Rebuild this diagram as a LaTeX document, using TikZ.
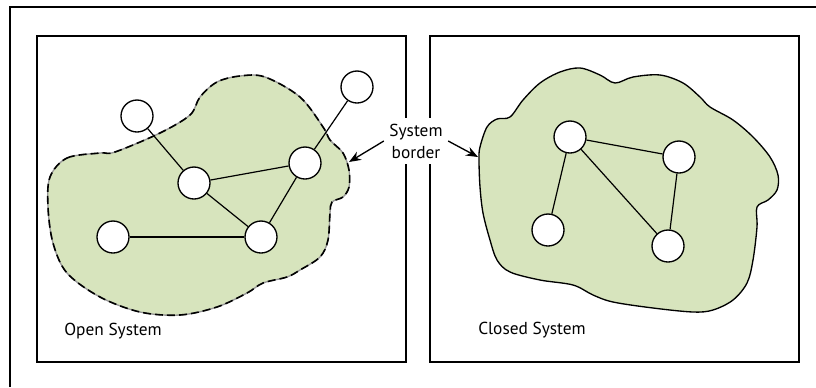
\documentclass[tikz,border=0pt]{standalone}
\usepackage{fontspec}
\setmainfont{PT Sans}
\usepackage{xcolor}
\usetikzlibrary{positioning,shapes,arrows.meta}
\definecolor{blobgreen}{RGB}{215,228,189}
\definecolor{bordergrey}{RGB}{150,150,150}

\tikzset{
  unit/.style={draw, circle, fill=white, line width=1pt, minimum size=24pt, inner sep=0pt},
  link/.style={line width=0.9pt},
  box/.style={draw, line width=1pt}
}

\begin{document}
\begin{tikzpicture}[x=0.75pt, y=-0.75pt, font=\fontsize{13}{16.5}\selectfont]
\useasboundingbox (0,0) rectangle (816,387);
\draw[box] (10,387) -- (10,7) -- (816,7);

\draw[box] (37,36) rectangle (406,362);
\draw[box] (430,36) rectangle (799,362);

\fill[blobgreen] plot[smooth cycle, tension=0.55] coordinates {(50,177) (67,158) (100,153) (115,152) (160,133) (190,115) (200,97) (217,82) (240,76) (265,77) (300,97) (323,127) (330,140) (343,153) (349,170) (349,187) (343,197) (332,202) (330,213) (328,240) (320,257) (300,270) (287,277) (263,283) (247,293) (217,307) (180,315) (140,312) (100,297) (67,273) (53,243) (48,207)};
\draw[bordergrey, line width=1pt] plot[smooth cycle, tension=0.55] coordinates {(50,177) (67,158) (100,153) (115,152) (160,133) (190,115) (200,97) (217,82) (240,76) (265,77) (300,97) (323,127) (330,140) (343,153) (349,170) (349,187) (343,197) (332,202) (330,213) (328,240) (320,257) (300,270) (287,277) (263,283) (247,293) (217,307) (180,315) (140,312) (100,297) (67,273) (53,243) (48,207)};
\draw[black, line width=1.2pt, dash pattern=on 6pt off 3pt] plot[smooth cycle, tension=0.55] coordinates {(50,177) (67,158) (100,153) (115,152) (160,133) (190,115) (200,97) (217,82) (240,76) (265,77) (300,97) (323,127) (330,140) (343,153) (349,170) (349,187) (343,197) (332,202) (330,213) (328,240) (320,257) (300,270) (287,277) (263,283) (247,293) (217,307) (180,315) (140,312) (100,297) (67,273) (53,243) (48,207)};

\draw[fill=blobgreen, line width=1pt] plot[smooth cycle, tension=0.55] coordinates {(479,160) (480,147) (487,127) (497,119) (510,117) (523,100) (540,83) (560,72) (580,68) (600,75) (615,83) (633,77) (660,75) (683,83) (700,97) (710,107) (733,120) (753,137) (770,157) (778,175) (777,190) (768,200) (757,207) (757,227) (753,260) (747,283) (733,300) (713,310) (693,312) (653,308) (613,302) (593,295) (573,285) (540,280) (510,272) (497,260) (490,240) (483,213) (480,187)};

\node[unit] (a1) at (137,116) {};
\node[unit] (a2) at (357,87) {};
\node[unit] (a3) at (194,183) {};
\node[unit] (a4) at (305,163) {};
\node[unit] (a5) at (113,237) {};
\node[unit] (a6) at (261,237) {};
\draw[link] (a1) -- (a3);
\draw[link] (a2) -- (a4);
\draw[link] (a3) -- (a4);
\draw[link] (a3) -- (a6);
\draw[link] (a4) -- (a6);
\draw[link] (a5) -- (a6);

\node[unit] (b1) at (570,137) {};
\node[unit] (b2) at (679,157) {};
\node[unit] (b3) at (548,230) {};
\node[unit] (b4) at (668,246) {};
\draw[link] (b1) -- (b2);
\draw[link] (b1) -- (b3);
\draw[link] (b1) -- (b4);
\draw[link] (b2) -- (b4);

\node[fill=white, align=center, inner sep=4pt] (lbl) at (416,141) {System\\border};
\coordinate (openedge) at (349,162);
\coordinate (closededge) at (478,157);
\draw[-{Stealth[length=9pt, width=7pt]}, line width=1pt] (lbl.west) -- (openedge);
\draw[-{Stealth[length=9pt, width=7pt]}, line width=1pt] (lbl.east) -- (closededge);

\node (open) at (113,331) {Open System};
\node (closed) at (532,330) {Closed System};
\end{tikzpicture}
\end{document}
